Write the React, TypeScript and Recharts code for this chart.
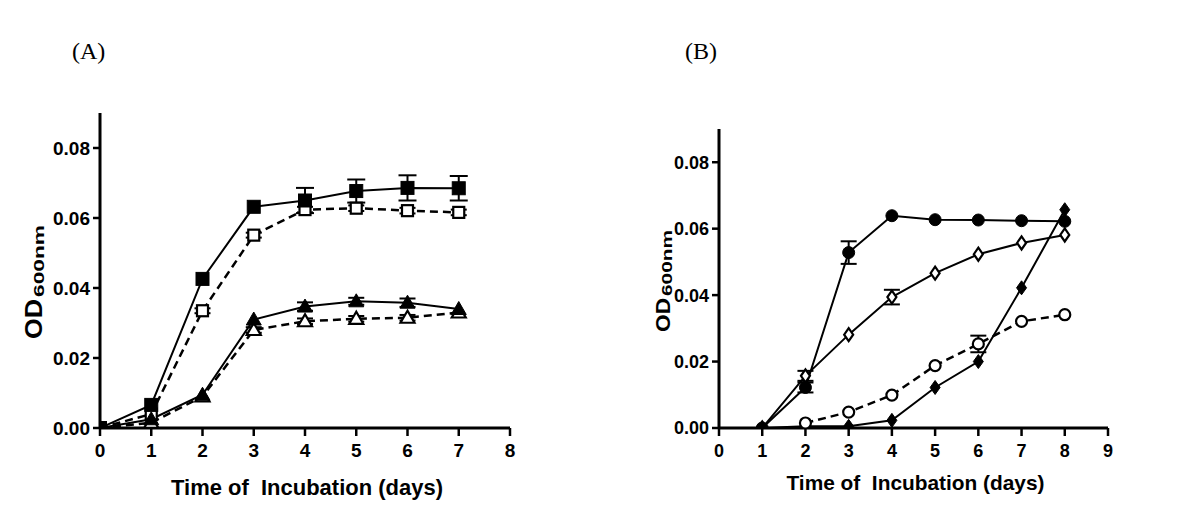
import React from 'react';
import { LineChart, Line, XAxis, YAxis, ErrorBar, Label } from 'recharts';

// ---------- Panel A data ----------
const daysA = [0, 1, 2, 3, 4, 5, 6, 7];
const filledSquareA = [0, 0.0066, 0.0426, 0.0632, 0.0650, 0.0677, 0.0686, 0.0685];
const filledSquareErrA = [0, 0, 0, 0, 0.0036, 0.0033, 0.0036, 0.0035];
const openSquareA = [0, 0.0040, 0.0335, 0.0551, 0.0624, 0.0628, 0.0621, 0.0616];
const openSquareErrA = [0, 0, 0.0007, 0.0007, 0.0008, 0.0008, 0.0008, 0.0008];
const filledTriangleA = [0, 0.0025, 0.0095, 0.0310, 0.0347, 0.0362, 0.0358, 0.0340];
const filledTriangleErrA = [0, 0, 0, 0, 0.0012, 0.0010, 0.0012, 0];
const openTriangleA = [0, 0.0015, 0.0090, 0.0280, 0.0305, 0.0312, 0.0315, 0.0330];
const openTriangleErrA = [0, 0, 0, 0.0008, 0.0008, 0.0008, 0.0008, 0];

// ---------- Panel B data ----------
const daysB = [1, 2, 3, 4, 5, 6, 7, 8];
const filledCircleB = [0, 0.0122, 0.0528, 0.0639, 0.0627, 0.0626, 0.0624, 0.0622];
const filledCircleErrB = [0, 0.0015, 0.0034, 0, 0, 0, 0, 0];
const openDiamondB = [0, 0.0157, 0.0281, 0.0394, 0.0466, 0.0523, 0.0557, 0.0581];
const openDiamondErrB = [0, 0.0015, 0, 0.0022, 0, 0, 0, 0];
const openCircleB = [null, 0.0015, 0.0048, 0.0099, 0.0188, 0.0253, 0.0321, 0.0341];
const openCircleErrB = [0, 0, 0, 0, 0, 0.0025, 0, 0];
const filledDiamondB = [0, 0.0005, 0.0005, 0.0023, 0.0122, 0.0200, 0.0422, 0.0657];

const yTicks = [0, 0.02, 0.04, 0.06, 0.08];
const xTicksA = [0, 1, 2, 3, 4, 5, 6, 7, 8];
const xTicksB = [0, 1, 2, 3, 4, 5, 6, 7, 8, 9];
const xTitle = 'Time of  Incubation (days)';

const dataA = daysA.map((d, i) => ({
  day: d,
  fs: filledSquareA[i], fsErr: filledSquareErrA[i],
  os: openSquareA[i], osErr: openSquareErrA[i],
  ft: filledTriangleA[i], ftErr: filledTriangleErrA[i],
  ot: openTriangleA[i], otErr: openTriangleErrA[i],
}));

const dataB = daysB.map((d, i) => ({
  day: d,
  fc: filledCircleB[i], fcErr: filledCircleErrB[i],
  od: openDiamondB[i], odErr: openDiamondErrB[i],
  oc: openCircleB[i], ocErr: openCircleErrB[i],
  fd: filledDiamondB[i],
}));

const FONT = '"Liberation Sans", Arial, Helvetica, sans-serif';

type Shape = 'square' | 'triangle' | 'circle' | 'diamond';

const makeDot = (shape: Shape, filled: boolean, size: number) => (p: any) => {
  const { cx, cy, index } = p;
  if (cx == null || cy == null || p.value == null || (Array.isArray(p.value) && p.value[1] == null)) {
    return <g key={`n${index}`} />;
  }
  const fill = filled ? '#000' : '#fff';
  const sw = filled ? 1 : 2.2;
  const h = size / 2;
  if (shape === 'square') {
    return <rect key={index} x={cx - h} y={cy - h} width={size} height={size} fill={fill} stroke="#000" strokeWidth={sw} />;
  }
  if (shape === 'circle') {
    return <circle key={index} cx={cx} cy={cy} r={h} fill={fill} stroke="#000" strokeWidth={sw} />;
  }
  if (shape === 'triangle') {
    const pts = `${cx},${cy - h - 1} ${cx - h - 1},${cy + h - 1} ${cx + h + 1},${cy + h - 1}`;
    return <polygon key={index} points={pts} fill={fill} stroke="#000" strokeWidth={sw} strokeLinejoin="miter" />;
  }
  const pts = `${cx},${cy - h - 1} ${cx + h - 1},${cy} ${cx},${cy + h + 1} ${cx - h + 1},${cy}`;
  return <polygon key={index} points={pts} fill={fill} stroke="#000" strokeWidth={sw} />;
};

const tickStyle = (size: number) => ({ fill: '#000', fontSize: size, fontWeight: 700, fontFamily: FONT });

const YLabel = (opts: { x: number; yBottom: number; odSize: number; odLen: number; subSize: number; subLen: number; gap: number }) => () => (
  <g>
    <text
      transform={`translate(${opts.x},${opts.yBottom}) rotate(-90)`}
      fontFamily={FONT} fontWeight={700} fontSize={opts.odSize} fill="#000"
      textLength={opts.odLen} lengthAdjust="spacingAndGlyphs"
    >OD</text>
    <text
      transform={`translate(${opts.x + 1.5},${opts.yBottom - opts.odLen - opts.gap}) rotate(-90)`}
      fontFamily={FONT} fontWeight={700} fontSize={opts.subSize} fill="#000"
      textLength={opts.subLen} lengthAdjust="spacingAndGlyphs"
    >600nm</text>
  </g>
);

const XTitle = (size: number, dy: number, len: number) => (props: any) => {
  const vb = props.viewBox || {};
  return (
    <text x={vb.x + vb.width / 2 + 2} y={vb.y + dy} textAnchor="middle"
      fontFamily={FONT} fontWeight={700} fontSize={size} fill="#000"
      textLength={len} lengthAdjust="spacingAndGlyphs"
      style={{ whiteSpace: 'pre' }}>{xTitle}</text>
  );
};

const axisStroke = { stroke: '#000', strokeWidth: 3 };
const tickLineStroke = { stroke: '#000', strokeWidth: 2.5 };

export default function App() {
  return (
    <div style={{ position: 'absolute', left: 0, top: 0, width: 1200, height: 514, background: '#fff', overflow: 'hidden' }}>
      <svg width={1200} height={514} style={{ position: 'absolute', left: 0, top: 0 }}>
        <text x={72} y={59} fontFamily='"Liberation Serif", "DejaVu Serif", serif' fontSize={24} fill="#000">(A)</text>
        <text x={685} y={59} fontFamily='"Liberation Serif", "DejaVu Serif", serif' fontSize={24} fill="#000">(B)</text>
      </svg>

      {/* Panel A */}
      <div style={{ position: 'absolute', left: 0, top: 0 }}>
        <LineChart width={600} height={514} data={dataA} margin={{ top: 113, right: 90, bottom: 26, left: 0 }}>
          <XAxis dataKey="day" type="number" domain={[0, 8]} ticks={xTicksA} interval={0}
            axisLine={axisStroke} tickLine={tickLineStroke} tickSize={8} tickMargin={8}
            tick={tickStyle(19)} height={60} allowDataOverflow>
            <Label content={XTitle(22, 67, 272)} />
          </XAxis>
          <YAxis type="number" domain={[0, 0.09]} ticks={yTicks} interval={0} width={100}
            axisLine={axisStroke} tickLine={tickLineStroke} tickSize={7} tickMargin={3}
            tick={tickStyle(19)} tickFormatter={(v: number) => v.toFixed(2)} allowDataOverflow>
            <Label content={YLabel({ x: 42, yBottom: 339, odSize: 24, odLen: 40, subSize: 15, subLen: 72, gap: 2 })} />
          </YAxis>
          <Line dataKey="ot" stroke="#000" strokeWidth={2.5} strokeDasharray="8 5" isAnimationActive={false}
            dot={makeDot('triangle', false, 12)} activeDot={false}>
            <ErrorBar dataKey="otErr" width={8} stroke="#000" strokeWidth={2} direction="y" />
          </Line>
          <Line dataKey="os" stroke="#000" strokeWidth={2.5} strokeDasharray="8 5" isAnimationActive={false}
            dot={makeDot('square', false, 11)} activeDot={false}>
            <ErrorBar dataKey="osErr" width={8} stroke="#000" strokeWidth={2} direction="y" />
          </Line>
          <Line dataKey="ft" stroke="#000" strokeWidth={2} isAnimationActive={false}
            dot={makeDot('triangle', true, 13)} activeDot={false}>
            <ErrorBar dataKey="ftErr" width={8} stroke="#000" strokeWidth={2} direction="y" />
          </Line>
          <Line dataKey="fs" stroke="#000" strokeWidth={2} isAnimationActive={false}
            dot={makeDot('square', true, 13)} activeDot={false}>
            <ErrorBar dataKey="fsErr" width={9} stroke="#000" strokeWidth={2} direction="y" />
          </Line>
        </LineChart>
      </div>

      {/* Panel B */}
      <div style={{ position: 'absolute', left: 600, top: 0 }}>
        <LineChart width={600} height={514} data={dataB} margin={{ top: 129, right: 92, bottom: 26, left: 0 }}>
          <XAxis dataKey="day" type="number" domain={[0, 9]} ticks={xTicksB} interval={0}
            axisLine={axisStroke} tickLine={tickLineStroke} tickSize={8} tickMargin={8}
            tick={tickStyle(18)} height={60} allowDataOverflow>
            <Label content={XTitle(21, 62, 258)} />
          </XAxis>
          <YAxis type="number" domain={[0, 0.09]} ticks={yTicks} interval={0} width={119}
            axisLine={axisStroke} tickLine={tickLineStroke} tickSize={7} tickMargin={3}
            tick={tickStyle(18)} tickFormatter={(v: number) => v.toFixed(2)} allowDataOverflow>
            <Label content={YLabel({ x: 70, yBottom: 332, odSize: 21, odLen: 34, subSize: 14, subLen: 66, gap: 2 })} />
          </YAxis>
          <Line dataKey="fd" stroke="#000" strokeWidth={2} isAnimationActive={false}
            dot={makeDot('diamond', true, 12)} activeDot={false} />
          <Line dataKey="oc" stroke="#000" strokeWidth={2.5} strokeDasharray="8 5" isAnimationActive={false}
            dot={makeDot('circle', false, 11)} activeDot={false}>
            <ErrorBar dataKey="ocErr" width={8} stroke="#000" strokeWidth={2} direction="y" />
          </Line>
          <Line dataKey="od" stroke="#000" strokeWidth={2} isAnimationActive={false}
            dot={makeDot('diamond', false, 11)} activeDot={false}>
            <ErrorBar dataKey="odErr" width={8} stroke="#000" strokeWidth={2} direction="y" />
          </Line>
          <Line dataKey="fc" stroke="#000" strokeWidth={2} isAnimationActive={false}
            dot={makeDot('circle', true, 12)} activeDot={false}>
            <ErrorBar dataKey="fcErr" width={8} stroke="#000" strokeWidth={2} direction="y" />
          </Line>
        </LineChart>
      </div>
    </div>
  );
}
